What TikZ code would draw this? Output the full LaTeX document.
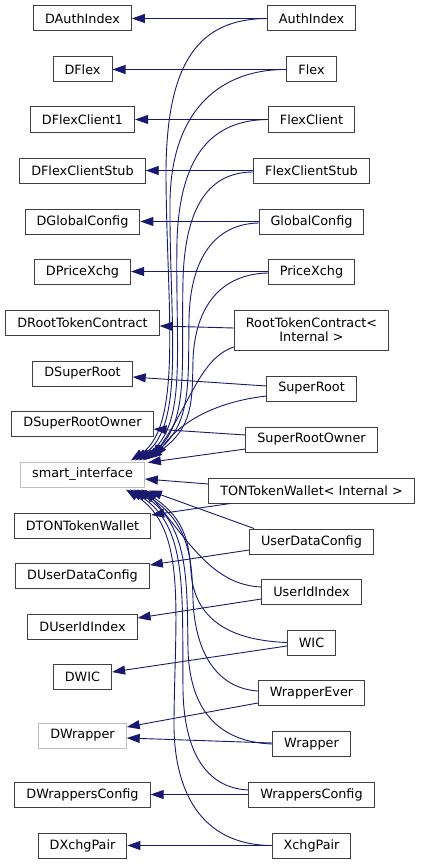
\documentclass[tikz,border=0pt]{standalone}
\usepackage{fontspec}
\setmainfont{DejaVu Sans}
\usetikzlibrary{arrows.meta}
\definecolor{edgeblue}{HTML}{191970}
\definecolor{boxline}{HTML}{404040}
\definecolor{boxgray}{HTML}{BFBFBF}
\begin{document}
\begin{tikzpicture}[x=1pt,y=-1pt,
  cls/.style={draw=boxline, line width=1pt, fill=white, inner xsep=11.5pt, inner ysep=0pt,
              minimum height=25pt, font=\fontsize{12.8}{14}\selectfont},
  gcls/.style={cls, draw=boxgray},
  edge/.style={draw=edgeblue, line width=0.9pt, -{Triangle[length=13pt,width=9pt]}}]
\useasboundingbox (0,0) rectangle (421,864);
\fill[white] (0,0) rectangle (421,864);
% left column
\node[cls] (DAuthIndex) at (82.5,18.5) {DAuthIndex};
\node[cls] (DFlex) at (82.5,69.5) {DFlex};
\node[cls] (DFlexClient1) at (82.5,119.5) {DFlexClient1};
\node[cls] (DFlexClientStub) at (82.5,170.5) {DFlexClientStub};
\node[cls] (DGlobalConfig) at (82.5,221.5) {DGlobalConfig};
\node[cls] (DPriceXchg) at (82.5,271.5) {DPriceXchg};
\node[cls] (DRTC) at (82.5,322.5) {DRootTokenContract};
\node[cls] (DSuperRoot) at (82.5,373.5) {DSuperRoot};
\node[cls] (DSRO) at (82.5,423.5) {DSuperRootOwner};
\node[gcls] (si) at (82.5,474.5) {smart\_interface};
\node[cls] (DTON) at (82.5,525.5) {DTONTokenWallet};
\node[cls] (DUDC) at (82.5,575.5) {DUserDataConfig};
\node[cls] (DUII) at (82.5,626.5) {DUserIdIndex};
\node[cls] (DWIC) at (82.5,677) {DWIC};
\node[gcls] (DW) at (82.5,735.5) {DWrapper};
\node[cls] (DWC) at (82.5,794.5) {DWrappersConfig};
\node[cls] (DXP) at (82.5,845.5) {DXchgPair};
% right column
\node[cls] (AuthIndex) at (311.5,18.5) {AuthIndex};
\node[cls] (Flex) at (311.5,69.5) {Flex};
\node[cls] (FlexClient) at (311.5,119.5) {FlexClient};
\node[cls] (FCS) at (311.5,170.5) {FlexClientStub};
\node[cls] (GC) at (311.5,221.5) {GlobalConfig};
\node[cls] (PX) at (311.5,271.5) {PriceXchg};
\node[cls, minimum height=40pt, align=center] (RTC) at (311.5,330) {RootTokenContract<\\Internal >};
\node[cls] (SR) at (311.5,388.5) {SuperRoot};
\node[cls] (SRO) at (311.5,439.5) {SuperRootOwner};
\node[cls] (TON) at (311.5,490.5) {TONTokenWallet< Internal >};
\node[cls] (UDC) at (311.5,541.5) {UserDataConfig};
\node[cls] (UII) at (311.5,592) {UserIdIndex};
\node[cls] (WIC) at (311.5,642.5) {WIC};
\node[cls] (WE) at (311.5,693) {WrapperEver};
\node[cls] (W) at (311.5,744) {Wrapper};
\node[cls] (WC) at (311.5,794.5) {WrappersConfig};
\node[cls] (XP) at (311.5,845.5) {XchgPair};
% straight edges to D-nodes
\draw[edge] (AuthIndex.west) -- (DAuthIndex.east);
\draw[edge] (Flex.west) -- (DFlex.east);
\draw[edge] (FlexClient.west) -- (DFlexClient1.east);
\draw[edge] (FCS.west) -- (DFlexClientStub.east);
\draw[edge] (GC.west) -- (DGlobalConfig.east);
\draw[edge] (PX.west) -- (DPriceXchg.east);
\draw[edge] ([shift={(0,-2)}]RTC.west) -- ([shift={(0,3.5)}]DRTC.east);
\draw[edge] ([shift={(0,-2.5)}]SR.west) -- ([shift={(0,3.5)}]DSuperRoot.east);
\draw[edge] ([shift={(0,-4.5)}]SRO.west) -- ([shift={(0,5.5)}]DSRO.east);
\draw[edge] ([shift={(22,0)}]TON.south west) -- ([shift={(0,-10.5)}]DTON.east);
\draw[edge] ([shift={(0,8.5)}]UDC.west) -- ([shift={(0,-10.5)}]DUDC.east);
\draw[edge] ([shift={(0,7)}]UII.west) -- ([shift={(0,-8.5)}]DUII.east);
\draw[edge] ([shift={(0,3.5)}]WIC.west) -- ([shift={(0,-5)}]DWIC.east);
\draw[edge] ([shift={(0,10)}]WE.west) -- ([shift={(0,-8.5)}]DW.east);
\draw[edge] ([shift={(0,-1)}]W.west) -- ([shift={(0,2.5)}]DW.east);
\draw[edge] (WC.west) -- (DWC.east);
\draw[edge] (XP.west) -- (DXP.east);
% curves to smart_interface (upper group)
\draw[edge] (AuthIndex.west) .. controls (200,19) and (167,60) .. (166,170)
  .. controls (166,300) and (184,425) .. ([shift={(-14,-1)}]si.north east);
\draw[edge] (Flex.west) .. controls (225,69) and (172,105) .. (170,200)
  .. controls (169,320) and (186,425) .. ([shift={(-10,-1)}]si.north east);
\draw[edge] (FlexClient.west) .. controls (212,120) and (180,155) .. (177,240)
  .. controls (175,350) and (188,425) .. ([shift={(-6,-1)}]si.north east);
\draw[edge] ([shift={(0,1.5)}]FCS.west) .. controls (210,172) and (185,205) .. (183,280)
  .. controls (181,370) and (190,425) .. ([shift={(-2,-1)}]si.north east);
\draw[edge] ([shift={(0,1.5)}]GC.west) .. controls (215,224) and (190,258) .. (189,320)
  .. controls (188,385) and (192,425) .. ([shift={(1,-2)}]si.north east);
\draw[edge] ([shift={(0,1.5)}]PX.west) .. controls (222,274) and (195,305) .. (193,360)
  .. controls (192,400) and (194,428) .. ([shift={(4,-3)}]si.north east);
\draw[edge] ([shift={(0,17)}]RTC.west) .. controls (200,358) and (190,405) .. ([shift={(7,-4)}]si.north east);
\draw[edge] ([shift={(0,7.5)}]SR.west) .. controls (215,402) and (180,422) .. ([shift={(10,-4)}]si.north east);
\draw[edge] ([shift={(0,9.5)}]SRO.west) -- ([shift={(3,1)}]si.north east);
\draw[edge] ([shift={(0,-6.5)}]TON.west) -- ([shift={(0,4.5)}]si.east);
% curves to smart_interface (lower group)
\draw[edge] ([shift={(5,0)}]UDC.north west) -- ([shift={(4,3)}]si.south east);
\draw[edge] ([shift={(0,-5)}]UII.west) .. controls (212,585) and (188,540) .. ([shift={(0,2)}]si.south east);
\draw[edge] (WIC.west) .. controls (220,640) and (194,612) .. (191,572)
  .. controls (189,550) and (189,520) .. ([shift={(-4,2)}]si.south east);
\draw[edge] ([shift={(0,-2)}]WE.west) .. controls (215,688) and (195,650) .. (193,600)
  .. controls (192,560) and (190,522) .. ([shift={(-8,2)}]si.south east);
\draw[edge] (W.west) .. controls (220,742) and (190,712) .. (188,650)
  .. controls (187,580) and (189,524) .. ([shift={(-11,2)}]si.south east);
\draw[edge] ([shift={(0,-4.5)}]WC.west) .. controls (205,788) and (184,750) .. (183,690)
  .. controls (182,590) and (188,526) .. ([shift={(-15,2)}]si.south east);
\draw[edge] (XP.west) .. controls (200,845) and (173,790) .. (174,720)
  .. controls (175,610) and (187,528) .. ([shift={(-19,2)}]si.south east);
\end{tikzpicture}
\end{document}
